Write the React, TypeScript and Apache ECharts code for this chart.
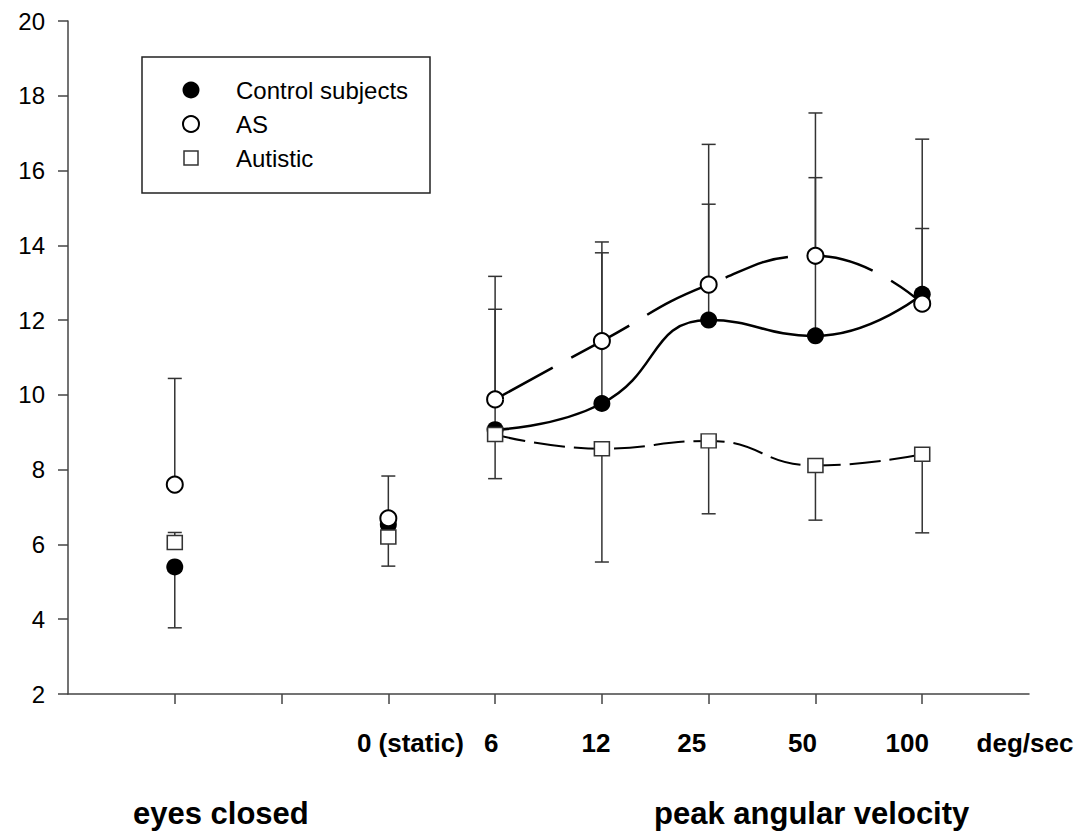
import React, { useEffect, useRef } from "react";
import * as echarts from "echarts";

// x positions of the conditions on the value axis (1 = eyes closed, 3 = static, 4..8 = velocities)
const positions = [1, 3, 4, 5, 6, 7, 8];
const tickPositions = [1, 2, 3, 4, 5, 6, 7, 8];
const labelPositions = [3, 4, 5, 6, 7, 8, 9];
const xTickLabels = ["0 (static)", "6", "12", "25", "50", "100", "deg/sec"];
const yTicks = { min: 2, max: 20, interval: 2 };

const controlMean = [5.4, 6.53, 9.07, 9.77, 12.0, 11.58, 12.69];
const controlErrEnd = [3.77, null, 12.29, 13.8, 15.1, 15.81, 14.45];
const asMean = [7.6, 6.7, 9.88, 11.44, 12.95, 13.72, 12.44];
const asErrEnd = [10.44, 7.83, 13.17, 14.09, 16.7, 17.54, 16.84];
const autMean = [6.05, 6.2, 8.94, 8.56, 8.77, 8.11, 8.41];
const autErrEnd = [6.32, 5.42, 7.76, 5.53, 6.82, 6.65, 6.31];

const legendNames = ["Control subjects", "AS", "Autistic"];

// label nudges (px) relative to tick, as in the reference typesetting
const labelShift = [22, -4, -6, -17, -13, -15, -4];

const FONT = "'Liberation Sans', Arial, Helvetica, sans-serif";

export default function App() {
  const ref = useRef<HTMLDivElement>(null);

  useEffect(() => {
    if (!ref.current) return;
    const chart = echarts.init(ref.current, undefined, { renderer: "svg" });

    const rich: Record<string, any> = {};
    labelShift.forEach((d, i) => {
      rich["l" + i] = {
        fontSize: 26,
        fontWeight: "bold",
        fontFamily: FONT,
        color: "#000",
        padding: d >= 0 ? [0, 0, 0, 2 * d] : [0, -2 * d, 0, 0],
      };
    });

    const errData = (means: number[], ends: (number | null)[]) =>
      positions
        .map((x, i) => (ends[i] == null ? null : [x, means[i], ends[i]]))
        .filter((d) => d !== null);

    const errSeries = (name: string, means: number[], ends: (number | null)[]) => ({
      type: "custom",
      name: name + " err",
      z: 1,
      silent: true,
      data: errData(means, ends),
      encode: { x: 0, y: [1, 2] },
      renderItem: (params: any, api: any) => {
        const x = api.value(0);
        const m = api.value(1);
        const e = api.value(2);
        const p1 = api.coord([x, m]);
        const p2 = api.coord([x, e]);
        const st = { stroke: "#333", lineWidth: 1.5 };
        return {
          type: "group",
          children: [
            { type: "line", shape: { x1: p1[0], y1: p1[1], x2: p2[0], y2: p2[1] }, style: st },
            { type: "line", shape: { x1: p2[0] - 7, y1: p2[1], x2: p2[0] + 7, y2: p2[1] }, style: st },
          ],
        };
      },
    });

    const groups = [
      {
        name: legendNames[0],
        means: controlMean,
        symbol: "circle",
        symbolSize: 17,
        itemStyle: { color: "#000", borderColor: "#000", borderWidth: 0, opacity: 1 },
        lineType: "solid" as any,
      },
      {
        name: legendNames[1],
        means: asMean,
        symbol: "circle",
        symbolSize: 16,
        itemStyle: { color: "#fff", borderColor: "#000", borderWidth: 2, opacity: 1 },
        lineType: [66, 21] as any,
      },
      {
        name: legendNames[2],
        means: autMean,
        symbol: "rect",
        symbolSize: [15, 14],
        itemStyle: { color: "#fff", borderColor: "#333", borderWidth: 1.5, opacity: 1 },
        lineType: [31, 9] as any,
      },
    ];

    const markSeries: any[] = [];
    groups.forEach((g, gi) => {
      markSeries.push({
        type: "line",
        name: g.name,
        z: 2,
        silent: true,
        smooth: 0.5,
        symbol: g.symbol,
        symbolSize: g.symbolSize,
        showAllSymbol: true,
        itemStyle: g.itemStyle,
        emphasis: { disabled: true },
        lineStyle: { color: "#000", width: gi === 2 ? 2 : 2.5, type: g.lineType },
        data: positions.slice(2).map((x, i) => [x, g.means[i + 2]]),
      });
      markSeries.push({
        type: "scatter",
        name: g.name + " (unconnected)",
        z: 2,
        silent: true,
        symbol: g.symbol,
        symbolSize: g.symbolSize,
        itemStyle: g.itemStyle,
        emphasis: { disabled: true },
        data: positions.slice(0, 2).map((x, i) => [x, g.means[i]]),
      });
    });

    const legendRows = [90, 124, 158];
    const legendX = 191;

    const option: any = {
      animation: false,
      backgroundColor: "#fff",
      grid: { left: 68, right: 53, top: 21, bottom: 143 },
      xAxis: {
        type: "value",
        min: 0,
        max: 9,
        interval: 1,
        splitLine: { show: false },
        axisLine: { onZero: false, lineStyle: { color: "#444", width: 1.5 } },
        axisTick: {
          show: true,
          length: 10,
          customValues: tickPositions,
          lineStyle: { color: "#444", width: 1.5 },
        },
        axisLabel: {
          show: true,
          margin: 36,
          customValues: labelPositions,
          showMaxLabel: true,
          showMinLabel: true,
          formatter: (v: number) => {
            const i = labelPositions.indexOf(Math.round(v));
            if (i < 0) return "";
            return "{l" + i + "|" + xTickLabels[i] + "}";
          },
          rich,
        },
      },
      yAxis: {
        type: "value",
        min: yTicks.min,
        max: yTicks.max,
        interval: yTicks.interval,
        splitLine: { show: false },
        axisLine: { show: true, onZero: false, lineStyle: { color: "#444", width: 1.5 } },
        axisTick: { show: true, length: 10, lineStyle: { color: "#444", width: 1.5 } },
        axisLabel: { margin: 23, fontSize: 24, fontFamily: FONT, color: "#000" },
      },
      graphic: [
        {
          type: "rect",
          shape: { x: 142, y: 57, width: 288, height: 136 },
          style: { fill: "none", stroke: "#222", lineWidth: 1.5 },
          z: 10,
        },
        {
          type: "circle",
          shape: { cx: legendX, cy: legendRows[0], r: 8.5 },
          style: { fill: "#000" },
          z: 10,
        },
        {
          type: "circle",
          shape: { cx: legendX, cy: legendRows[1], r: 8 },
          style: { fill: "#fff", stroke: "#000", lineWidth: 2 },
          z: 10,
        },
        {
          type: "rect",
          shape: { x: legendX - 7, y: legendRows[2] - 7, width: 14, height: 14 },
          style: { fill: "#fff", stroke: "#333", lineWidth: 1.5 },
          z: 10,
        },
        ...legendNames.map((n, i) => ({
          type: "text",
          x: 236,
          y: legendRows[i],
          z: 10,
          style: {
            text: n,
            fontSize: 24,
            fontFamily: FONT,
            fill: "#000",
            verticalAlign: "middle",
            align: "left",
          },
        })),
        {
          type: "text",
          x: 133,
          y: 813,
          style: {
            text: "eyes closed",
            fontSize: 31,
            fontWeight: "bold",
            fontFamily: FONT,
            fill: "#000",
            verticalAlign: "middle",
            align: "left",
          },
        },
        {
          type: "text",
          x: 654,
          y: 813,
          style: {
            text: "peak angular velocity",
            fontSize: 31,
            fontWeight: "bold",
            fontFamily: FONT,
            fill: "#000",
            verticalAlign: "middle",
            align: "left",
          },
        },
      ],
      series: [
        errSeries("Control", controlMean, controlErrEnd),
        errSeries("AS", asMean, asErrEnd),
        errSeries("Autistic", autMean, autErrEnd),
        ...markSeries,
      ],
    };

    chart.setOption(option);
    return () => chart.dispose();
  }, []);

  return (
    <div
      ref={ref}
      style={{ position: "fixed", left: 0, top: 0, width: 1082, height: 837, background: "#fff" }}
    />
  );
}
